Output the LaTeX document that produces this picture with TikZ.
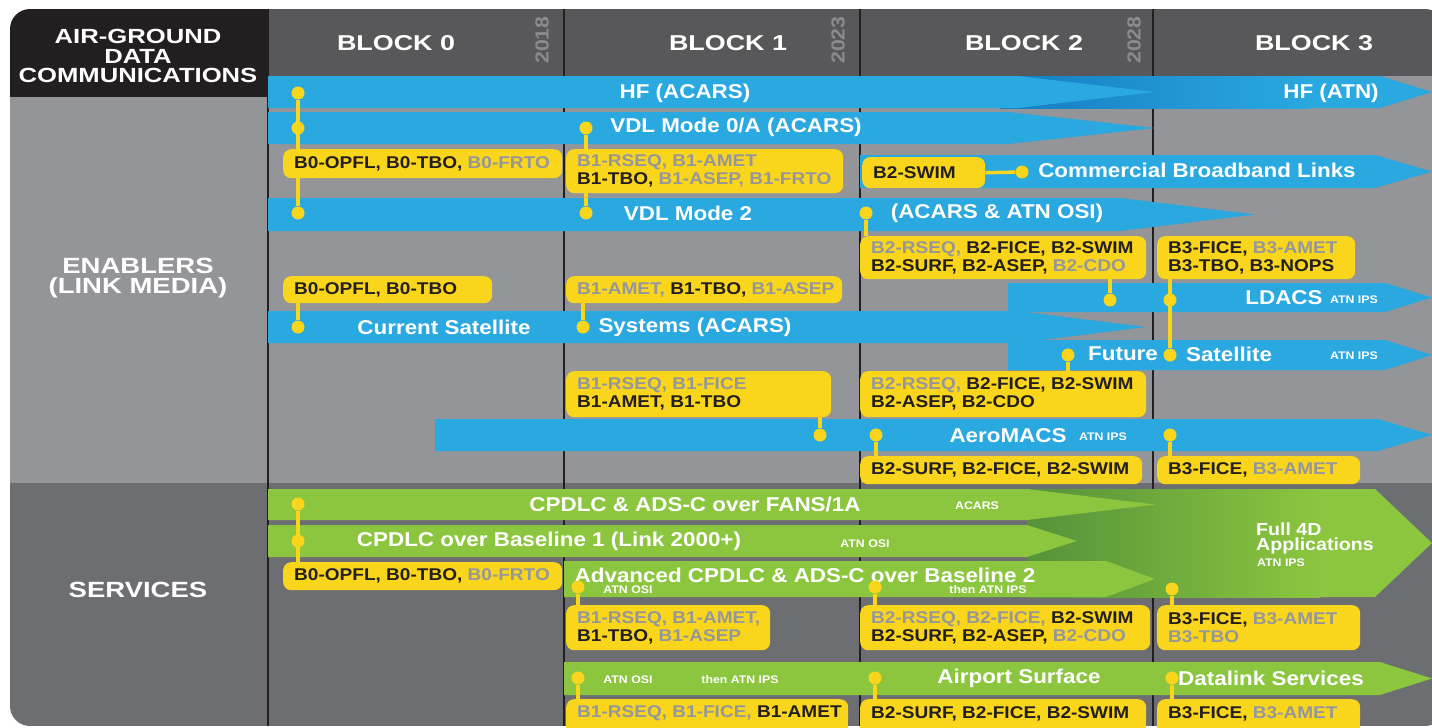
\documentclass[tikz,border=0pt]{standalone}
\usepackage{fontspec}
\setmainfont{Liberation Sans}[FakeStretch=1.12]
\newfontfamily\hdfam{Liberation Sans}[FakeStretch=1.25]
\definecolor{barblue}{HTML}{2AA8E0}
\definecolor{hfdark}{HTML}{157DC2}
\definecolor{ylw}{HTML}{F9D51C}
\definecolor{txtblk}{HTML}{231F20}
\definecolor{txtgry}{HTML}{96979A}
\definecolor{green}{HTML}{8CC63F}
\definecolor{gdark}{HTML}{55923A}
\definecolor{hdrgrey}{HTML}{58585A}
\definecolor{hdblack}{HTML}{231F20}
\definecolor{engrey}{HTML}{939598}
\definecolor{svgrey}{HTML}{6D6E71}
\definecolor{yeargrey}{HTML}{8A8B8E}
\newcommand\gry[1]{\textcolor{txtgry}{#1}}
\newcommand\barfont{\fontsize{20}{22}\selectfont\bfseries}
\newcommand\bxfont{\fontsize{17}{18}\selectfont\bfseries}
\newcommand\smfont{\fontsize{11}{12}\selectfont\bfseries}
\newcommand\hdfont{\hdfam\fontsize{21.5}{23}\selectfont\bfseries}
\newcommand\lhfont{\hdfam\fontsize{20.5}{19.5}\selectfont\bfseries}
\newcommand\lbfont{\hdfam\fontsize{22}{20}\selectfont\bfseries}
\newcommand\yrfont{\fontsize{19}{20}\selectfont\bfseries}
\newcommand\fdfont{\fontsize{17.5}{15}\selectfont\bfseries}
\newcommand\arrowbar[6]{\fill[#1] (#2,#3) -- (#5,#3) -- (#6,{(#3+#4)/2}) -- (#5,#4) -- (#2,#4) -- cycle;}
\newcommand\ybx[6]{%
  \node[ybox, minimum width=#4pt, minimum height=#5pt] (#1) at (#2,#3) {};
  \node[ytext] (#1t) at ([xshift=11pt]#1.west) {#6};}
\newcommand\dt[3]{\node[dot] (#1) at (#2,#3) {};}
\pgfdeclarelayer{bglayer}
\pgfdeclarelayer{conlayer}
\pgfsetlayers{bglayer,conlayer,main}
\begin{document}
\begin{tikzpicture}[x=1pt,y=-1pt,
  ybox/.style={fill=ylw, rounded corners=8pt, anchor=north west, inner sep=0pt, draw=none},
  ytext/.style={anchor=west, inner sep=0pt, align=left, font=\bxfont, text=txtblk},
  dot/.style={circle, fill=ylw, minimum size=13pt, inner sep=0pt},
  conn/.style={draw=ylw, line width=3.5pt},
  divline/.style={draw=hdblack, line width=2pt},
  bartxt/.style={text=white, font=\barfont, inner sep=0pt},
  smtxt/.style={text=white, font=\smfont, inner sep=0pt},
  hdtxt/.style={text=white, font=\hdfont, inner sep=0pt},
  yeartxt/.style={text=yeargrey, font=\yrfont, inner sep=0pt, rotate=90}]
\useasboundingbox (0,0) rectangle (1432,728);
\begin{pgfonlayer}{bglayer}
\fill[white] (0,0) rectangle (1432,728);
% panel backgrounds
\begin{scope}
\clip[rounded corners=20pt] (10,9) rectangle (1445,726);
\fill[hdrgrey] (268,9) rectangle (1445,76);
\fill[hdblack] (10,9) rectangle (268,97);
\fill[engrey] (10,97) rectangle (268,483);
\fill[engrey] (268,76) rectangle (1445,483);
\fill[svgrey] (10,483) rectangle (1445,726);
\end{scope}
% column dividers
\draw[divline] (268,9) -- (268,726);
\draw[divline] (564,9) -- (564,726);
\draw[divline] (860,9) -- (860,726);
\draw[divline] (1153,9) -- (1153,726);
% header texts
\node[hdtxt, font=\lhfont, align=center] (hAG) at (138,56) {AIR-GROUND\\DATA\\COMMUNICATIONS};
\node[hdtxt] (hB0) at (396,43) {BLOCK 0};
\node[hdtxt] (hB1) at (728,43) {BLOCK 1};
\node[hdtxt] (hB2) at (1024,43) {BLOCK 2};
\node[hdtxt] (hB3) at (1314,43) {BLOCK 3};
\node[yeartxt] (y18) at (542,40) {2018};
\node[yeartxt] (y23) at (838,40) {2023};
\node[yeartxt] (y28) at (1134,40) {2028};
\node[hdtxt, font=\lbfont, align=center] (lEN) at (138,278) {ENABLERS\\(LINK MEDIA)};
\node[hdtxt, font=\lbfont] (lSV) at (138,590) {SERVICES};
% ---------- enablers bars
\arrowbar{barblue}{1000}{76}{108}{1380}{1432}
\shade[left color=hfdark, right color=barblue] (1000,76) rectangle (1310,108);
\arrowbar{barblue}{268}{76}{108}{1018}{1155}
\arrowbar{barblue}{268}{112}{144}{1008}{1155}
\arrowbar{barblue}{860}{155}{188}{1375}{1432}
\arrowbar{barblue}{268}{198}{231}{1120}{1255}
\arrowbar{barblue}{1008}{283}{312}{1385}{1432}
\arrowbar{barblue}{1008}{340}{370}{1385}{1432}
\arrowbar{barblue}{268}{311}{343}{1018}{1146}
\arrowbar{barblue}{435}{419}{451}{1378}{1432}
% ---------- services bars
\arrowbar{green}{1027}{489}{597}{1375}{1432}
\shade[left color=gdark, right color=green] (1027,489) rectangle (1320,597);
\arrowbar{green}{268}{489}{520}{1027}{1155}
\arrowbar{green}{268}{525}{557}{1027}{1077}
\arrowbar{green}{564}{561}{597}{1106}{1155}
\arrowbar{green}{564}{662}{695}{1380}{1432}
% ---------- bar texts
\node[bartxt] (tHFa) at (685,93) {HF (ACARS)};
\node[bartxt] (tHFb) at (1331,93) {HF (ATN)};
\node[bartxt] (tVDa) at (736,127) {VDL Mode 0/A (ACARS)};
\node[bartxt] (tCB) at (1197,170) {Commercial Broadband Links};
\node[bartxt] (tVDb) at (688,213) {VDL Mode 2};
\node[bartxt] (tVDc) at (997,213) {(ACARS \& ATN OSI)};
\node[bartxt] (tLD) at (1284,298) {LDACS};
\node[smtxt] (tLDs) at (1354,300) {ATN IPS};
\node[bartxt] (tCSa) at (444,327) {Current Satellite};
\node[bartxt] (tCSb) at (695,327) {Systems (ACARS)};
\node[bartxt] (tFSa) at (1123,354) {Future};
\node[bartxt] (tFSb) at (1229,354) {Satellite};
\node[smtxt] (tFSs) at (1354,356) {ATN IPS};
\node[bartxt] (tAM) at (1008,436) {AeroMACS};
\node[smtxt] (tAMs) at (1103,437) {ATN IPS};
\node[bartxt] (tFA) at (695,504) {CPDLC \& ADS-C over FANS/1A};
\node[smtxt] (tFAs) at (977,506) {ACARS};
\node[bartxt] (tBL) at (549,541) {CPDLC over Baseline 1 (Link 2000+)};
\node[smtxt] (tBLs) at (865,544) {ATN OSI};
\node[bartxt] (tAD) at (805,575) {Advanced CPDLC \& ADS-C over Baseline 2};
\node[smtxt] (tADs) at (628,590) {ATN OSI};
\node[smtxt] (tADt) at (988,590) {then ATN IPS};
\node[text=white, font=\fdfont, inner sep=0pt, anchor=north west, align=left] (tF4) at (1256,523) {Full 4D\\Applications};
\node[smtxt, anchor=west] (tF4s) at (1257,563) {ATN IPS};
\node[smtxt] (tASs) at (628,680) {ATN OSI};
\node[smtxt] (tASt) at (740,680) {then ATN IPS};
\node[bartxt] (tAS) at (1019,678) {Airport Surface};
\node[bartxt] (tDS) at (1271,678) {Datalink Services};
\end{pgfonlayer}
% ---------- dots
\dt{d1}{298}{93}\dt{d2}{298}{128}\dt{d3}{298}{213}
\dt{d4}{586}{128}\dt{d5}{586}{213}
\dt{d6}{866}{213}
\dt{dcb}{1022}{172}
\dt{d7}{1110}{300}\dt{d8}{1170}{300}\dt{d9}{1170}{355}
\dt{d10}{1068}{355}
\dt{d11}{298}{327}\dt{d12}{583}{327}
\dt{d13}{820}{435}\dt{d14}{876}{435}\dt{d15}{1170}{435}
\dt{s1}{298}{504}\dt{s2}{298}{541}
\dt{s3}{578}{587}\dt{s4}{875}{587}\dt{s5}{1172}{589}
\dt{s6}{578}{678}\dt{s7}{875}{678}\dt{s8}{1172}{678}
% ---------- boxes
\ybx{b0a}{283}{149}{279}{29}{B0-OPFL, B0-TBO, \gry{B0-FRTO}}
\ybx{b1a}{566}{149}{277}{44}{\gry{B1-RSEQ, B1-AMET}\\B1-TBO, \gry{B1-ASEP, B1-FRTO}}
\ybx{b2sw}{862}{157}{123}{31}{B2-SWIM}
\ybx{b2a}{860}{236}{286}{43}{\gry{B2-RSEQ,} B2-FICE, B2-SWIM\\B2-SURF, B2-ASEP, \gry{B2-CDO}}
\ybx{b3a}{1157}{236}{198}{43}{B3-FICE, \gry{B3-AMET}\\B3-TBO, B3-NOPS}
\ybx{b0b}{283}{276}{209}{27}{B0-OPFL, B0-TBO}
\ybx{b1b}{566}{276}{276}{27}{\gry{B1-AMET,} B1-TBO, \gry{B1-ASEP}}
\ybx{b1c}{566}{371}{265}{46}{\gry{B1-RSEQ, B1-FICE}\\B1-AMET, B1-TBO}
\ybx{b2c}{860}{371}{286}{46}{\gry{B2-RSEQ,} B2-FICE, B2-SWIM\\B2-ASEP, B2-CDO}
\ybx{b2d}{860}{456}{282}{28}{B2-SURF, B2-FICE, B2-SWIM}
\ybx{b3d}{1157}{456}{203}{28}{B3-FICE, \gry{B3-AMET}}
\ybx{b0s}{283}{562}{279}{28}{B0-OPFL, B0-TBO, \gry{B0-FRTO}}
\ybx{b1s}{566}{605}{204}{45}{\gry{B1-RSEQ, B1-AMET,}\\B1-TBO, \gry{B1-ASEP}}
\ybx{b2s}{860}{605}{290}{45}{\gry{B2-RSEQ, B2-FICE,} B2-SWIM\\B2-SURF, B2-ASEP, \gry{B2-CDO}}
\ybx{b3s}{1157}{605}{203}{45}{B3-FICE, \gry{B3-AMET}\\\gry{B3-TBO}}
\fill[ylw] (566,712) rectangle (848,740);
\fill[ylw] (860,712) rectangle (1146,740);
\fill[ylw] (1157,712) rectangle (1360,740);
\ybx{b1t}{566}{699}{282}{29}{\gry{B1-RSEQ, B1-FICE,} B1-AMET}
\ybx{b2t}{860}{699}{286}{29}{B2-SURF, B2-FICE, B2-SWIM}
\ybx{b3t}{1157}{699}{203}{29}{B3-FICE, \gry{B3-AMET}}
% ---------- connectors (drawn beneath boxes and dots)
\begin{pgfonlayer}{conlayer}
\draw[conn] (d1) -- (d3);
\draw[conn] (d4) -- (d5);
\draw[conn] (d6) -- (d6 |- b2a.north);
\draw[conn] (b2sw.east) -- (dcb);
\draw[conn] (d7 |- b2a.south) -- (d7);
\draw[conn] (d8 |- b3a.south) -- (d9);
\draw[conn] (d10) -- (d10 |- b2c.north);
\draw[conn] (d11) -- (d11 |- b0b.south);
\draw[conn] (d12) -- (d12 |- b1b.south);
\draw[conn] (d13) -- (d13 |- b1c.south);
\draw[conn] (d14) -- (d14 |- b2d.north);
\draw[conn] (d15) -- (d15 |- b3d.north);
\draw[conn] (s1) -- (s1 |- b0s.north);
\draw[conn] (s3) -- (s3 |- b1s.north);
\draw[conn] (s4) -- (s4 |- b2s.north);
\draw[conn] (s5) -- (s5 |- b3s.north);
\draw[conn] (s6) -- (s6 |- b1t.north);
\draw[conn] (s7) -- (s7 |- b2t.north);
\draw[conn] (s8) -- (s8 |- b3t.north);
\end{pgfonlayer}
\end{tikzpicture}
\end{document}
